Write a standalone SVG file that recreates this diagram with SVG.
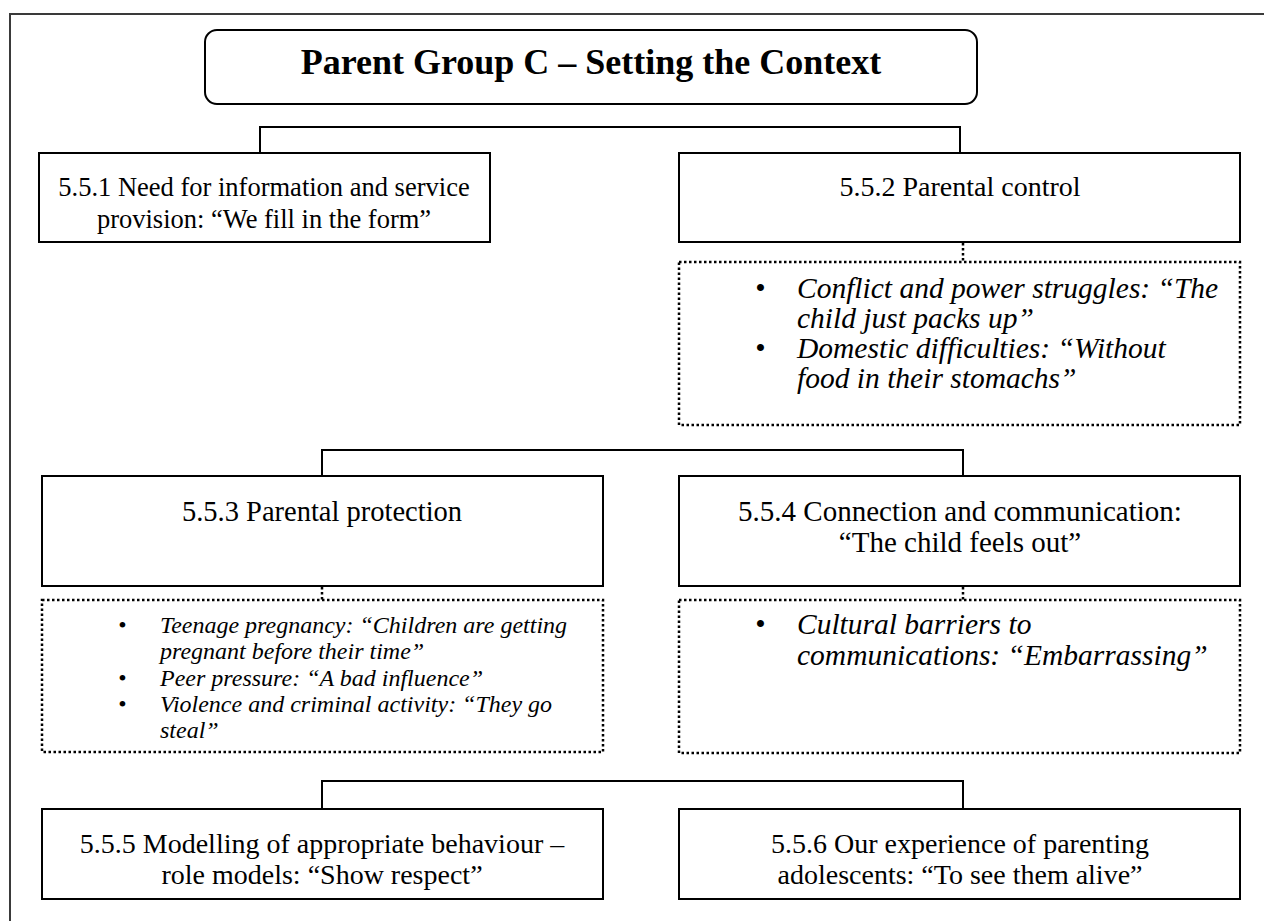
<svg xmlns="http://www.w3.org/2000/svg" width="1264" height="921" viewBox="0 0 1264 921">
  <style>
    .frame { fill: none; stroke: #3a3a3a; stroke-width: 2; }
    .box { fill: #ffffff; stroke: #000000; stroke-width: 2; }
    .dots { fill: #ffffff; stroke: #000000; stroke-width: 2.5; stroke-dasharray: 2.5 2.5; }
    .link { fill: none; stroke: #000000; stroke-width: 2; }
    .dlink { fill: none; stroke: #000000; stroke-width: 2.5; stroke-dasharray: 2.5 2.5; }
    text { font-family: "Liberation Serif", "Times New Roman", serif; fill: #000000; }
    .title { font-size: 36px; font-weight: bold; text-anchor: middle; }
    .node { font-size: 28px; text-anchor: middle; }
    .item { font-size: 29.5px; font-style: italic; }
    .small { font-size: 24px; font-style: italic; }
  </style>

  <rect width="1264" height="921" fill="#ffffff"/>
  <!-- page frame running off the right and bottom edges -->
  <path class="frame" d="M10,921 V14 H1264"/>

  <g id="connectors">
    <path class="link" d="M260,153 V127 H960 V153"/>
    <path class="dlink" d="M963,243 V262"/>
    <path class="link" d="M322,476 V450 H963 V476"/>
    <path class="dlink" d="M322,587 V600"/>
    <path class="dlink" d="M963,587 V600"/>
    <path class="link" d="M322,809 V781 H963 V809"/>
  </g>

  <g id="title">
    <rect class="box" x="205" y="30" width="772" height="74" rx="12" ry="12"/>
    <text class="title" x="591" y="74">Parent Group C – Setting the Context</text>
  </g>

  <g id="n551">
    <rect class="box" x="39" y="153" width="451" height="89"/>
    <text class="node" x="264" y="196" style="font-size:26.5px">5.5.1 Need for information and service</text>
    <text class="node" x="264" y="228" style="font-size:26.5px">provision: “We fill in the form”</text>
  </g>

  <g id="n552">
    <rect class="box" x="679" y="153" width="561" height="89"/>
    <text class="node" x="960" y="196">5.5.2 Parental control</text>
  </g>

  <g id="n552-items">
    <rect class="dots" x="679" y="262" width="561" height="163"/>
    <text class="item" x="755" y="298">•</text>
    <text class="item" x="797" y="298">Conflict and power struggles: “The</text>
    <text class="item" x="797" y="328">child just packs up”</text>
    <text class="item" x="755" y="358">•</text>
    <text class="item" x="797" y="358">Domestic difficulties: “Without</text>
    <text class="item" x="797" y="388">food in their stomachs”</text>
  </g>

  <g id="n553">
    <rect class="box" x="42" y="476" width="561" height="110"/>
    <text class="node" x="322" y="521" style="font-size:28.5px">5.5.3 Parental protection</text>
  </g>

  <g id="n554">
    <rect class="box" x="679" y="476" width="561" height="110"/>
    <text class="node" x="960" y="521" style="font-size:29px">5.5.4 Connection and communication:</text>
    <text class="node" x="960" y="552" style="font-size:29px">“The child feels out”</text>
  </g>

  <g id="n553-items">
    <rect class="dots" x="42" y="600" width="561" height="152"/>
    <text class="small" x="118" y="633">•</text>
    <text class="small" x="160" y="633">Teenage pregnancy: “Children are getting</text>
    <text class="small" x="160" y="659">pregnant before their time”</text>
    <text class="small" x="118" y="686">•</text>
    <text class="small" x="160" y="686">Peer pressure: “A bad influence”</text>
    <text class="small" x="118" y="712">•</text>
    <text class="small" x="160" y="712">Violence and criminal activity: “They go</text>
    <text class="small" x="160" y="738">steal”</text>
  </g>

  <g id="n554-items">
    <rect class="dots" x="679" y="600" width="561" height="153"/>
    <text class="item" x="755" y="634">•</text>
    <text class="item" x="797" y="634">Cultural barriers to</text>
    <text class="item" x="797" y="665">communications: “Embarrassing”</text>
  </g>

  <g id="n555">
    <rect class="box" x="42" y="809" width="561" height="90"/>
    <text class="node" x="322" y="853">5.5.5 Modelling of appropriate behaviour –</text>
    <text class="node" x="322" y="884">role models: “Show respect”</text>
  </g>

  <g id="n556">
    <rect class="box" x="679" y="809" width="561" height="90"/>
    <text class="node" x="960" y="853">5.5.6 Our experience of parenting</text>
    <text class="node" x="960" y="884">adolescents: “To see them alive”</text>
  </g>
</svg>
